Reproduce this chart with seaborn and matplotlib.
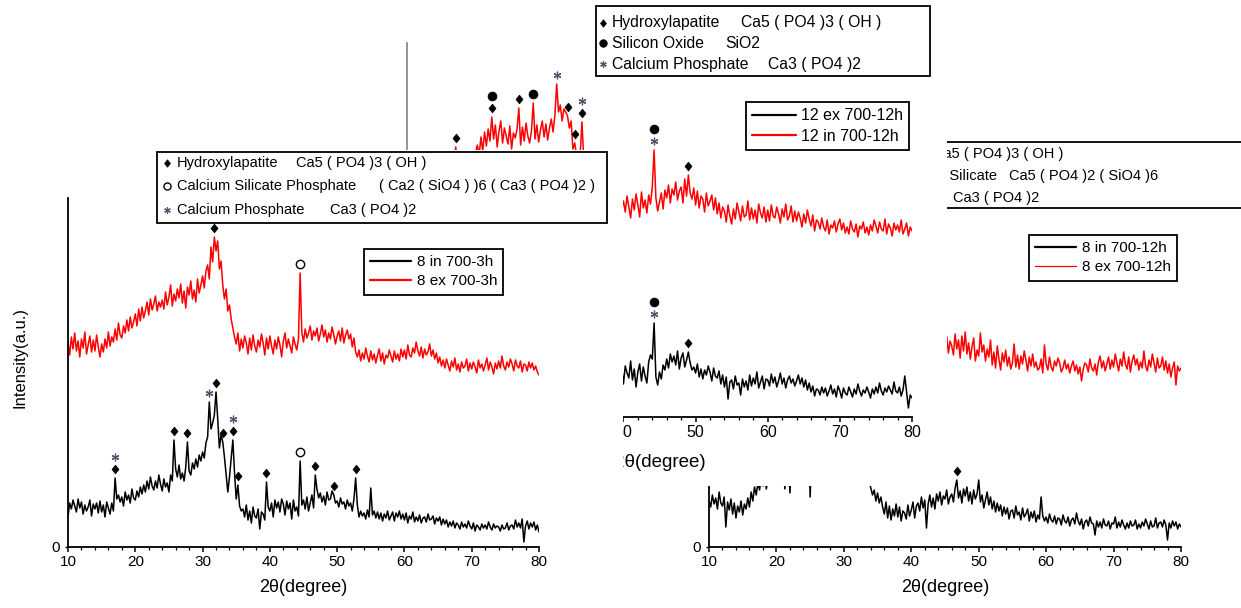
import numpy as np
import matplotlib
matplotlib.use("Agg")
import matplotlib.pyplot as plt
from matplotlib.patches import Rectangle
from matplotlib.lines import Line2D
from matplotlib.transforms import Affine2D
from matplotlib.ticker import MultipleLocator
import seaborn as sns

sns.set_style("ticks")
plt.rcParams["font.family"] = ["Liberation Sans", "DejaVu Sans"]
plt.rcParams.update({"text.color": "black", "axes.labelcolor": "black",
                     "xtick.color": "black", "ytick.color": "black"})

# ---------------------------------------------------------------------------
# XRD scans: intensity (a.u.) sampled every 0.25 degree of 2-theta
# ---------------------------------------------------------------------------
STEP = 0.25

# sample 8, 700 C for 3 h  (scan starts at 10 deg)
A_START = 10.0
A_BLACK = [
    30, 44, 38, 47, 41, 35, 48, 39, 45, 33, 42, 36, 40, 47, 31, 43, 38, 44, 34, 46, 35, 42, 30, 45, 39, 33, 44, 36,
    69, 48, 52, 45, 50, 41, 55, 47, 52, 44, 58, 49, 47, 56, 50, 60, 53, 62, 55, 66, 58, 70, 61, 57, 66, 59, 72, 63,
    56, 68, 60, 64, 55, 72, 66, 107, 78, 70, 82, 68, 74, 66, 80, 105, 76, 72, 84, 78, 88, 80, 92, 86, 95, 89, 104, 110,
    145, 118, 124, 132, 155, 128, 99, 112, 105, 90, 72, 55, 70, 88, 107, 74, 48, 62, 41, 36, 38, 30, 42, 27, 36, 24, 40, 31,
    29, 38, 18, 35, 33, 27, 65, 40, 36, 44, 30, 47, 39, 45, 35, 48, 43, 32, 46, 38, 44, 28, 47, 36, 40, 31, 86, 42,
    47, 38, 50, 36, 44, 52, 39, 72, 58, 49, 54, 45, 51, 42, 55, 47, 48, 56, 52, 44, 46, 40, 49, 43, 45, 38, 47, 41,
    44, 36, 48, 69, 42, 30, 36, 31, 34, 28, 37, 30, 59, 32, 36, 29, 35, 28, 34, 26, 33, 29, 36, 27, 31, 35, 26, 34,
    30, 36, 28, 33, 27, 34, 24, 31, 28, 35, 25, 30, 26, 32, 24, 29, 30, 25, 33, 27, 28, 31, 23, 29, 26, 30, 22, 28,
    23, 27, 20, 25, 21, 26, 19, 24, 22, 18, 25, 20, 23, 19, 26, 21, 18, 24, 16, 22, 20, 17, 23, 19, 22, 18, 25, 20,
    17, 23, 19, 21, 20, 16, 22, 18, 19, 24, 17, 21, 22, 18, 27, 20, 24, 19, 28, 5, 21, 26, 18, 24, 20, 25, 17, 22, 15]
A_RED = [
    205, 192, 210, 198, 214, 196, 206, 190, 208, 199, 215, 193, 202, 211, 195, 207, 196, 212, 200, 190, 203, 195, 208, 199, 215, 201, 210, 205,
    218, 207, 224, 212, 209, 221, 214, 227, 216, 230, 219, 225, 233, 221, 238, 226, 240, 229, 236, 245, 232, 248, 237, 243, 251, 236, 245, 240,
    247, 238, 255, 242, 250, 262, 241, 253, 246, 258, 249, 263, 244, 256, 239, 260, 252, 266, 248, 257, 245, 268, 254, 262, 271, 259, 276, 282,
    268, 300, 285, 310, 296, 306, 278, 286, 262, 248, 258, 236, 242, 228, 219, 210, 203, 214, 196, 208, 199, 211, 204, 193, 209, 197, 212, 201,
    195, 207, 200, 213, 204, 192, 209, 198, 211, 201, 193, 207, 198, 210, 202, 190, 206, 214, 199, 208, 201, 194, 210, 203, 197, 208, 274, 215,
    205, 218, 209, 214, 221, 207, 216, 211, 219, 206, 213, 222, 210, 217, 205, 214, 208, 220, 212, 203, 211, 216, 206, 219, 204, 212, 217, 208,
    213, 200, 209, 195, 190, 197, 186, 194, 188, 199, 191, 185, 196, 187, 193, 184, 192, 198, 186, 194, 183, 192, 189, 197, 191, 185, 196, 188,
    193, 186, 198, 190, 197, 188, 202, 192, 190, 199, 194, 205, 196, 191, 200, 189, 198, 192, 195, 203, 191, 197, 188, 194, 184, 190, 181, 187,
    179, 188, 182, 176, 186, 180, 189, 177, 183, 175, 185, 179, 181, 188, 176, 184, 178, 185, 180, 174, 187, 179, 183, 176, 182, 189, 177, 185,
    180, 173, 184, 178, 186, 179, 191, 181, 177, 185, 180, 188, 183, 176, 187, 181, 179, 186, 175, 183, 182, 176, 185, 179, 184, 177, 181, 175, 172]

# sample 12, 700 C for 12 h
C_RED_START = 10.0
C_RED = [
    238, 226, 245, 232, 240, 229, 251, 236, 244, 233, 249, 238, 247, 236, 255, 241, 243, 252, 238, 257, 246, 259, 241, 254, 249, 262, 253, 270,
    255, 248, 261, 252, 258, 246, 263, 255, 260, 251, 264, 272, 262, 280, 266, 285, 271, 288, 276, 300, 278, 292, 270, 286, 296, 274, 289, 281,
    273, 291, 268, 284, 279, 288, 309, 272, 290, 276, 294, 281, 274, 286, 314, 278, 292, 275, 287, 296, 280, 293, 277, 289, 298, 285, 302, 333,
    305, 312, 296, 308, 305, 301, 289, 296, 268, 274, 262, 255, 262, 295, 258, 250, 264, 248, 255, 240, 246, 235, 242, 230, 237, 226, 233, 222,
    229, 218, 226, 215, 222, 211, 224, 208, 216, 205, 221, 210, 199, 218, 207, 223, 212, 200, 225, 209, 217, 204, 222, 213, 230, 267, 219, 206,
    215, 224, 208, 227, 219, 232, 214, 228, 222, 235, 217, 226, 230, 214, 238, 221, 242, 224, 218, 229, 212, 226, 209, 221, 218, 205, 224, 211,
    216, 222, 207, 219, 203, 214, 199, 210, 206, 195, 212, 201, 193, 208, 198, 214, 205, 196, 211, 200, 202, 216, 197, 209, 198, 207, 194, 213,
    204, 199, 210, 195, 207, 196, 212, 201, 199, 210, 203, 194, 208, 200, 213, 197, 201, 211, 195, 206, 196, 205, 199, 190, 203, 194, 207, 198,
    191, 202, 186, 197, 195, 188, 199, 190, 186, 197, 183, 192, 189, 196, 185, 193, 198, 187, 194, 184, 190, 183, 196, 188, 185, 193, 180, 191,
    188, 195, 184, 190, 182, 192, 186, 197, 191, 184, 195, 188, 186, 198, 183, 193, 189, 181, 194, 187, 192, 185, 197, 183, 188, 194, 181, 190, 186]
C_BLACK_START = 38.0
C_BLACK = [
    40, 52, 35, 47, 38, 55, 42, 49, 33, 51, 44, 39, 56, 37, 48, 30, 45, 53, 36, 50, 41, 34, 55, 62, 58, 94, 40, 32,
    45, 38, 52, 47, 58, 49, 63, 55, 61, 52, 66, 48, 59, 64, 50, 57, 65, 54, 47, 50, 44, 53, 40, 48, 38, 47, 42, 51,
    45, 36, 49, 41, 39, 46, 33, 42, 30, 40, 18, 35, 37, 28, 41, 32, 34, 22, 38, 30, 36, 27, 42, 31, 39, 33, 45, 29,
    35, 41, 28, 38, 37, 31, 43, 34, 40, 30, 36, 44, 33, 39, 29, 37, 41, 34, 38, 31, 36, 42, 33, 39, 30, 37, 27, 34,
    25, 31, 21, 28, 27, 22, 30, 24, 29, 21, 26, 32, 23, 28, 20, 31, 26, 19, 29, 24, 22, 30, 25, 20, 28, 23, 33, 26,
    21, 27, 24, 30, 25, 19, 28, 23, 30, 24, 34, 26, 22, 29, 25, 31, 27, 23, 35, 26, 24, 30, 21, 27, 41, 25, 9, 22, 19]

# sample 8, 700 C for 12 h
D_BLACK_START = 10.0
D_BLACK = [
    46, 40, 52, 43, 49, 38, 55, 44, 41, 50, 20, 45, 37, 48, 33, 44, 29, 41, 35, 46, 32, 43, 38, 49, 40, 55, 46, 60,
    52, 64, 57, 70, 61, 72, 58, 68, 75, 63, 80, 66, 71, 84, 74, 62, 88, 58, 79, 92, 54, 85, 96, 82, 90, 104, 95, 110,
    98, 112, 103, 118, 50, 105, 120, 108, 125, 114, 132, 118, 128, 140, 122, 145, 131, 150, 138, 146, 155, 141, 160, 148, 158, 170, 152, 165,
    180, 162, 175, 190, 200, 172, 160, 140, 118, 96, 80, 64, 59, 52, 57, 46, 54, 44, 50, 40, 33, 45, 29, 41, 27, 38, 31, 43,
    30, 40, 26, 36, 34, 28, 42, 31, 37, 45, 29, 41, 44, 36, 50, 39, 47, 19, 43, 52, 40, 49, 38, 53, 46, 55, 42, 51,
    48, 57, 43, 50, 53, 45, 59, 67, 49, 56, 44, 58, 51, 60, 46, 55, 43, 57, 48, 53, 67, 45, 52, 39, 47, 55, 42, 50,
    38, 46, 35, 44, 36, 42, 31, 40, 33, 39, 28, 36, 37, 29, 41, 32, 35, 27, 39, 30, 33, 38, 26, 35, 29, 36, 25, 32,
    28, 50, 31, 26, 30, 24, 33, 27, 25, 31, 23, 29, 28, 22, 32, 26, 24, 30, 21, 27, 29, 23, 34, 26, 22, 28, 18, 25,
    27, 21, 30, 24, 23, 12, 26, 20, 25, 19, 28, 22, 21, 26, 18, 24, 23, 30, 19, 25, 20, 27, 22, 18, 24, 19, 26, 21,
    22, 27, 18, 23, 19, 25, 21, 28, 23, 18, 26, 20, 21, 29, 19, 24, 25, 20, 27, 22, 7, 24, 19, 26, 21, 25, 18, 23, 20]
D_RED_START = 44.0
D_RED = [
    196, 208, 190, 203, 199, 211, 194, 206, 201, 192, 213, 198, 207, 189, 211, 196, 215, 193, 204, 188, 200, 209, 186, 197,
    191, 214, 195, 202, 186, 198, 190, 207, 182, 195, 179, 201, 188, 177, 194, 185, 197, 181, 190, 178, 184, 203, 180, 192,
    178, 191, 183, 196, 187, 176, 190, 181, 193, 180, 185, 177, 179, 188, 174, 202, 183, 177, 190, 180, 176, 186, 181, 189,
    184, 175, 179, 187, 178, 183, 174, 181, 186, 176, 182, 173, 180, 166, 178, 184, 182, 175, 188, 179, 176, 183, 172, 185,
    191, 179, 186, 176, 183, 190, 178, 187, 180, 193, 184, 176, 188, 181, 195, 183, 178, 190, 175, 186, 192, 182, 188, 177,
    185, 179, 196, 181, 176, 187, 180, 193, 184, 175, 189, 179, 181, 190, 177, 186, 174, 183, 170, 179, 185, 162, 181, 176, 179]

# phase tags: 2-theta of the reflection and the phases marked on it (bottom to top)
#   H hydroxylapatite, S calcium silicate phosphate, T calcium phosphate, Q silicon oxide
A_BLACK_TAGS = [(17.0, "HT"), (25.75, "H"), (27.75, "H"), (31.0, "T"), (32.0, "H"), (33.0, "H"),
                (34.5, "HT"), (35.25, "H"), (39.5, "H"), (44.5, "S"), (46.75, "H"), (49.5, "H"), (52.75, "H")]
A_RED_TAGS = [(31.75, "H"), (44.5, "S")]
C_RED_TAGS = [(16.75, "H"), (21.75, "HQ"), (25.5, "H"), (27.5, "Q"), (30.75, "T"), (32.25, "H"),
              (33.25, "H"), (34.25, "HT"), (44.25, "TQ"), (49.0, "H")]
C_BLACK_TAGS = [(44.25, "TQ"), (49.0, "H")]
D_BLACK_TAGS = [(46.75, "H")]

XTICKS = [10, 20, 30, 40, 50, 60, 70, 80]
XLABEL = "2θ(degree)"
YLABEL = "Intensity(a.u.)"

# ---------------------------------------------------------------------------
W, H = 1241, 608
fig = plt.figure(figsize=(W / 100, H / 100), dpi=100)
fig.patch.set_facecolor("white")
# pixel coordinates measured from the top-left corner of the canvas
px = Affine2D().scale(1 / W, -1 / H).translate(0, 1) + fig.transFigure

DIAMOND = [(0, 1), (0.8, 0), (0, -1), (-0.8, 0), (0, 1)]
TAG_STYLE = {
    "H": dict(marker=DIAMOND, ms=6.3, mfc="black", mec="black", mew=0.5),
    "S": dict(marker="o", ms=6.0, mfc="white", mec="black", mew=1.0),
    "T": dict(marker=(6, 2, 0), ms=5.5, mfc="#4d576b", mec="#4d576b", mew=0.9),
    "Q": dict(marker="o", ms=6.4, mfc="black", mec="black", mew=0.5),
}


def make_axes(left, top, right, bottom, z, ymax):
    ax = fig.add_axes([left / W, 1 - bottom / H, (right - left) / W, (bottom - top) / H])
    ax.set_zorder(z)
    ax.patch.set_visible(False)
    ax.set_xlim(10, 80)
    ax.set_ylim(0, ymax)
    sns.despine(ax=ax)
    for s in ("left", "bottom"):
        ax.spines[s].set_color("black")
        ax.spines[s].set_linewidth(1.3)
    ax.set_xticks(XTICKS)
    ax.xaxis.set_minor_locator(MultipleLocator(2))
    ax.set_yticks([0])
    ax.tick_params(axis="x", which="major", direction="out", length=3.5, width=1.1, pad=2.5)
    ax.tick_params(axis="x", which="minor", direction="out", length=2.2, width=0.9)
    ax.tick_params(axis="y", direction="out", length=2.5, width=1.0, pad=3)
    return ax


def cover(left, top, right, bottom, z):
    fig.add_artist(Rectangle((left, top), right - left, bottom - top, transform=px,
                             facecolor="white", edgecolor="none", zorder=z))


def trace(ax, start, values, color, lw=1.1):
    x = start + STEP * np.arange(len(values))
    sns.lineplot(x=x, y=np.asarray(values, dtype=float), ax=ax, color=color, linewidth=lw,
                 estimator=None, sort=False, legend=False)


def tags(ax, start, values, marks):
    for t, codes in marks:
        base = values[int(round((t - start) / STEP))] + 9
        for k, c in enumerate(codes):
            ax.plot([t], [base + 12 * k], ls="none", clip_on=False, zorder=5, **TAG_STYLE[c])


def phase_box(ax, box, rows, fs):
    l, t, r, b = box
    ax.add_patch(Rectangle((l, t), r - l, b - t, transform=px, fill=False,
                           edgecolor="black", lw=1.3, clip_on=False))
    for mx, y, code, name, nx, nha, formula, fx in rows:
        st = dict(TAG_STYLE[code])
        st["ms"] = st["ms"] * 0.85
        ax.plot([mx], [y], transform=px, ls="none", clip_on=False, **st)
        ax.text(nx, y, name, transform=px, ha=nha, va="center", fontsize=fs)
        ax.text(fx, y, formula, transform=px, ha="left", va="center", fontsize=fs)


def series_legend(ax, x, y, entries, fs):
    handles = [Line2D([], [], color=c, lw=lw) for _, c, lw in entries]
    leg = ax.legend(handles, [e[0] for e in entries], loc="upper left", bbox_to_anchor=(x, y),
                    bbox_transform=px, frameon=True, fancybox=False, edgecolor="black",
                    framealpha=1, borderaxespad=0, borderpad=0.4, handlelength=2.7,
                    handletextpad=0.35, labelspacing=0.35, fontsize=fs)
    leg.get_frame().set_linewidth(1.3)
    return leg


# ---------------- sample 8, 700-12h (right) ----------------
axD = make_axes(709, 188, 1181, 547, 1, 359)
trace(axD, D_RED_START, D_RED, "#ff0000")
trace(axD, D_BLACK_START, D_BLACK, "black")
tags(axD, D_BLACK_START, D_BLACK, D_BLACK_TAGS)
axD.tick_params(labelsize=11)
axD.set_xlabel(XLABEL, fontsize=13, labelpad=7)
phase_box(axD, (798, 142, 1262, 208), [
    (806, 154, "H", "Hydroxylapatite", 918, "right", "Ca5 ( PO4 )3 ( OH )", 933),
    (806, 176, "S", "Calcium Silicate", 997, "right", "Ca5 ( PO4 )2 ( SiO4 )6", 1009),
    (806, 198, "T", "Calcium Phosphate", 930, "right", "Ca3 ( PO4 )2", 953),
], 10.5)
series_legend(axD, 1029, 235, [("8 in 700-12h", "black", 1.6), ("8 ex 700-12h", "#ff0000", 0.9)], 11)

# ---------------- sample 12, 700-12h (middle) ----------------
cover(380, 0, 947, 486, 2)
axC = make_axes(407, 43, 912, 417, 3, 374)
axC.spines["left"].set_color("#8c8c8c")
trace(axC, C_RED_START, C_RED, "#ff0000")
trace(axC, C_BLACK_START, C_BLACK, "black")
tags(axC, C_RED_START, C_RED, C_RED_TAGS)
tags(axC, C_BLACK_START, C_BLACK, C_BLACK_TAGS)
axC.tick_params(labelsize=11.5)
axC.set_xlabel(XLABEL, fontsize=13.5, labelpad=10)
phase_box(axC, (596, 6, 930, 76), [
    (603, 23, "H", "Hydroxylapatite", 612, "left", "Ca5 ( PO4 )3 ( OH )", 741),
    (603, 43, "Q", "Silicon Oxide", 612, "left", "SiO2", 725),
    (603, 64, "T", "Calcium Phosphate", 612, "left", "Ca3 ( PO4 )2", 768),
], 11.3)
series_legend(axC, 746, 102, [("12 ex 700-12h", "black", 1.6), ("12 in 700-12h", "#ff0000", 1.6)], 11.5)

# ---------------- sample 8, 700-3h (left) ----------------
cover(0, 150, 623, 608, 4)
axA = make_axes(68, 198, 539, 547, 5, 349)
trace(axA, A_START, A_RED, "#ff0000")
trace(axA, A_START, A_BLACK, "black")
tags(axA, A_START, A_RED, A_RED_TAGS)
tags(axA, A_START, A_BLACK, A_BLACK_TAGS)
axA.tick_params(labelsize=11)
axA.set_xlabel(XLABEL, fontsize=13, labelpad=7)
axA.set_ylabel(YLABEL, fontsize=12)
axA.yaxis.set_label_coords(-0.085, 0.542)
phase_box(axA, (157, 152, 607, 223), [
    (167, 163, "H", "Hydroxylapatite", 177, "left", "Ca5 ( PO4 )3 ( OH )", 296),
    (167, 186, "S", "Calcium Silicate Phosphate", 177, "left", "( Ca2 ( SiO4 ) )6 ( Ca3 ( PO4 )2 )", 379),
    (167, 210, "T", "Calcium Phosphate", 177, "left", "Ca3 ( PO4 )2", 330),
], 10.5)
series_legend(axA, 364, 249, [("8 in 700-3h", "black", 1.6), ("8 ex 700-3h", "#ff0000", 1.6)], 11)

fig.savefig("out.png", dpi=100, facecolor="white")
